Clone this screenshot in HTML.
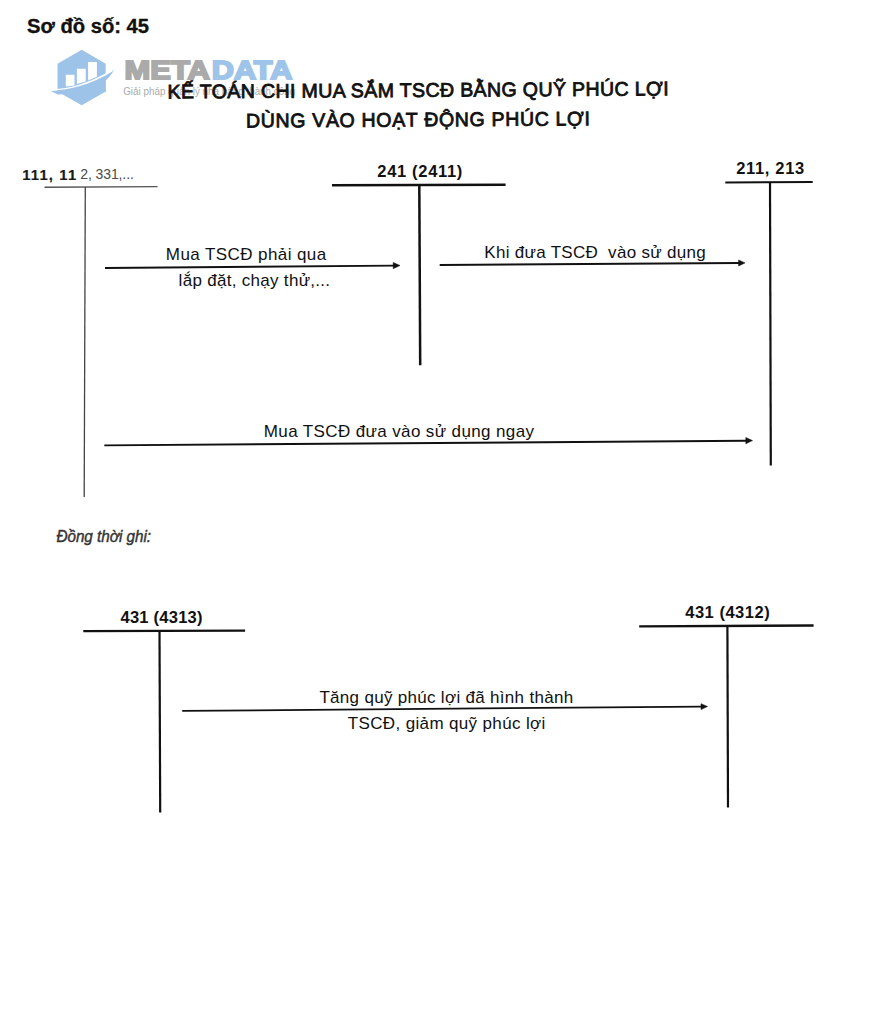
<!DOCTYPE html>
<html><head><meta charset="utf-8">
<style>
html,body{margin:0;padding:0;background:#fff;width:873px;height:1026px;overflow:hidden}
svg{display:block;font-family:"Liberation Sans",sans-serif}
svg text{white-space:pre}
</style></head>
<body>
<svg width="873" height="1026" viewBox="0 0 873 1026">
<rect width="873" height="1026" fill="#fff"/>
<!-- heading -->
<text x="27" y="32.5" font-size="20.3" font-weight="bold" fill="#111" stroke="#111" stroke-width="0.35" textLength="122" lengthAdjust="spacingAndGlyphs">Sơ đồ số: 45</text>

<!-- logo watermark -->
<g id="logo">
  <polygon points="81.7,49.8 105.7,63.8 105.7,91.6 81.7,105.2 57.5,91.6 57.5,63.8" fill="#9ec3e8"/>
  <path d="M65.8,86.4 L65.8,74.8 L74.5,74.8 L74.5,85.4 Z" fill="#fff"/>
  <path d="M76.9,84 L76.9,68.8 L85.7,68.8 L85.7,81.6 Z" fill="#fff"/>
  <path d="M88.1,80.6 L88.1,62 L96.9,62 L96.9,76.8 Z" fill="#fff"/>
  <path d="M51,91.2 C66,89.8 88,85.8 114,69.6 C111.5,75 108.5,78.3 105.7,80.4 L105.7,92 L57.8,94.6 Z" fill="#9ec3e8"/>
  <path d="M53.6,89.7 C66,89.5 88,85.5 112.4,70.5" stroke="#fff" stroke-width="1.5" fill="none"/>
  <text x="124.6" y="78.6" font-size="26.6" font-weight="bold" fill="#aaaaaa" stroke="#aaaaaa" stroke-width="1.9" textLength="85.3" lengthAdjust="spacingAndGlyphs">META</text>
  <text x="211.8" y="78.6" font-size="26.6" font-weight="bold" fill="#9fc4ea" stroke="#9fc4ea" stroke-width="1.9" textLength="80.6" lengthAdjust="spacingAndGlyphs">DATA</text>
  <text x="123.2" y="94.6" font-size="10.5" fill="#ababab" textLength="172" lengthAdjust="spacingAndGlyphs">Giải pháp quản lý nhà hàng thành công</text>
</g>

<!-- title -->
<g transform="rotate(-0.36 417 97)">
<text x="167.6" y="96.9" font-size="19.6" fill="#111" stroke="#111" stroke-width="0.8" textLength="501" lengthAdjust="spacing">KẾ TOÁN CHI MUA SẮM TSCĐ BẰNG QUỸ PHÚC LỢI</text>
<text x="245.8" y="126.4" font-size="19.6" fill="#111" stroke="#111" stroke-width="0.8" textLength="344" lengthAdjust="spacing">DÙNG VÀO HOẠT ĐỘNG PHÚC LỢI</text>
</g>

<!-- account 111 -->
<text x="22.2" y="179.5" font-size="14.8" font-weight="bold" fill="#1a1a1a" stroke="#1a1a1a" stroke-width="0.2" textLength="54" lengthAdjust="spacing">111, 11</text>
<text x="80.3" y="179.3" font-size="14" fill="#4a4a4a" textLength="53.5" lengthAdjust="spacing">2, 331,...</text>
<line x1="44.5" y1="187.2" x2="157.5" y2="186.6" stroke="#555" stroke-width="1.4"/>
<line x1="85.3" y1="187" x2="84.2" y2="497" stroke="#444" stroke-width="1.3"/>

<!-- account 241 -->
<text x="377.3" y="176.5" font-size="16.5" font-weight="bold" fill="#111" textLength="85" lengthAdjust="spacing">241 (2411)</text>
<line x1="332" y1="185.3" x2="505.6" y2="184.8" stroke="#111" stroke-width="2.6"/>
<line x1="419.3" y1="185" x2="420.2" y2="365.3" stroke="#111" stroke-width="2.5"/>

<!-- account 211 -->
<text x="736.2" y="174.2" font-size="16.5" font-weight="bold" fill="#111" textLength="68" lengthAdjust="spacing">211, 213</text>
<line x1="725.3" y1="182.5" x2="812.7" y2="182" stroke="#111" stroke-width="2.1"/>
<line x1="770" y1="182" x2="770.8" y2="465.4" stroke="#111" stroke-width="2.2"/>

<!-- arrow 1 -->
<line x1="105" y1="268" x2="394" y2="265.6" stroke="#111" stroke-width="1.9"/>
<polygon points="400,265.5 393.2,262.4 393.2,268.7" fill="#111" stroke="#111" stroke-width="0.5" stroke-linejoin="round"/>
<text x="165.8" y="260.3" font-size="17" fill="#111" textLength="160.4" lengthAdjust="spacing">Mua TSCĐ phải qua</text>
<text x="178.6" y="286" font-size="17" fill="#111" textLength="151.5" lengthAdjust="spacing">lắp đặt, chạy thử,...</text>

<!-- arrow 2 -->
<line x1="439.7" y1="265" x2="739" y2="263" stroke="#111" stroke-width="1.9"/>
<polygon points="745,262.9 738.6,259.9 738.6,266" fill="#111" stroke="#111" stroke-width="0.5" stroke-linejoin="round"/>
<text x="484.3" y="258.3" font-size="17" fill="#111" textLength="221.3" lengthAdjust="spacing">Khi đưa TSCĐ  vào sử dụng</text>

<!-- arrow 3 -->
<line x1="104.3" y1="445.4" x2="746" y2="440.7" stroke="#111" stroke-width="1.9"/>
<polygon points="752.5,440.6 745.8,437.5 745.8,443.8" fill="#111" stroke="#111" stroke-width="0.5" stroke-linejoin="round"/>
<text x="263.8" y="436.8" font-size="17" fill="#111" textLength="270.2" lengthAdjust="spacing">Mua TSCĐ đưa vào sử dụng ngay</text>

<!-- Dong thoi ghi -->
<text x="56.5" y="542" font-size="16.5" font-style="italic" fill="#333" stroke="#333" stroke-width="0.45" textLength="94.5" lengthAdjust="spacingAndGlyphs">Đồng thời ghi:</text>

<!-- account 4313 -->
<text x="120.5" y="622.7" font-size="16.5" font-weight="bold" fill="#111" textLength="82" lengthAdjust="spacing">431 (4313)</text>
<line x1="83.3" y1="631.2" x2="245.1" y2="630.6" stroke="#111" stroke-width="2.2"/>
<line x1="159.5" y1="631" x2="160.2" y2="812.6" stroke="#111" stroke-width="2.2"/>

<!-- account 4312 -->
<text x="685.2" y="618.4" font-size="16.5" font-weight="bold" fill="#111" textLength="84.5" lengthAdjust="spacing">431 (4312)</text>
<line x1="639.2" y1="626.4" x2="813.6" y2="625.5" stroke="#111" stroke-width="2.3"/>
<line x1="727.4" y1="626.2" x2="728" y2="807.5" stroke="#111" stroke-width="2.2"/>

<!-- arrow 4 -->
<line x1="182.2" y1="710.9" x2="702" y2="706.6" stroke="#111" stroke-width="1.8"/>
<polygon points="707.5,706.5 701,703.7 701,709.6" fill="#111" stroke="#111" stroke-width="0.5" stroke-linejoin="round"/>
<text x="319.4" y="702.5" font-size="17" fill="#111" textLength="253.8" lengthAdjust="spacing">Tăng quỹ phúc lợi đã hình thành</text>
<text x="347.8" y="729" font-size="17" fill="#111" textLength="197.5" lengthAdjust="spacing">TSCĐ, giảm quỹ phúc lợi</text>
</svg>
</body></html>
